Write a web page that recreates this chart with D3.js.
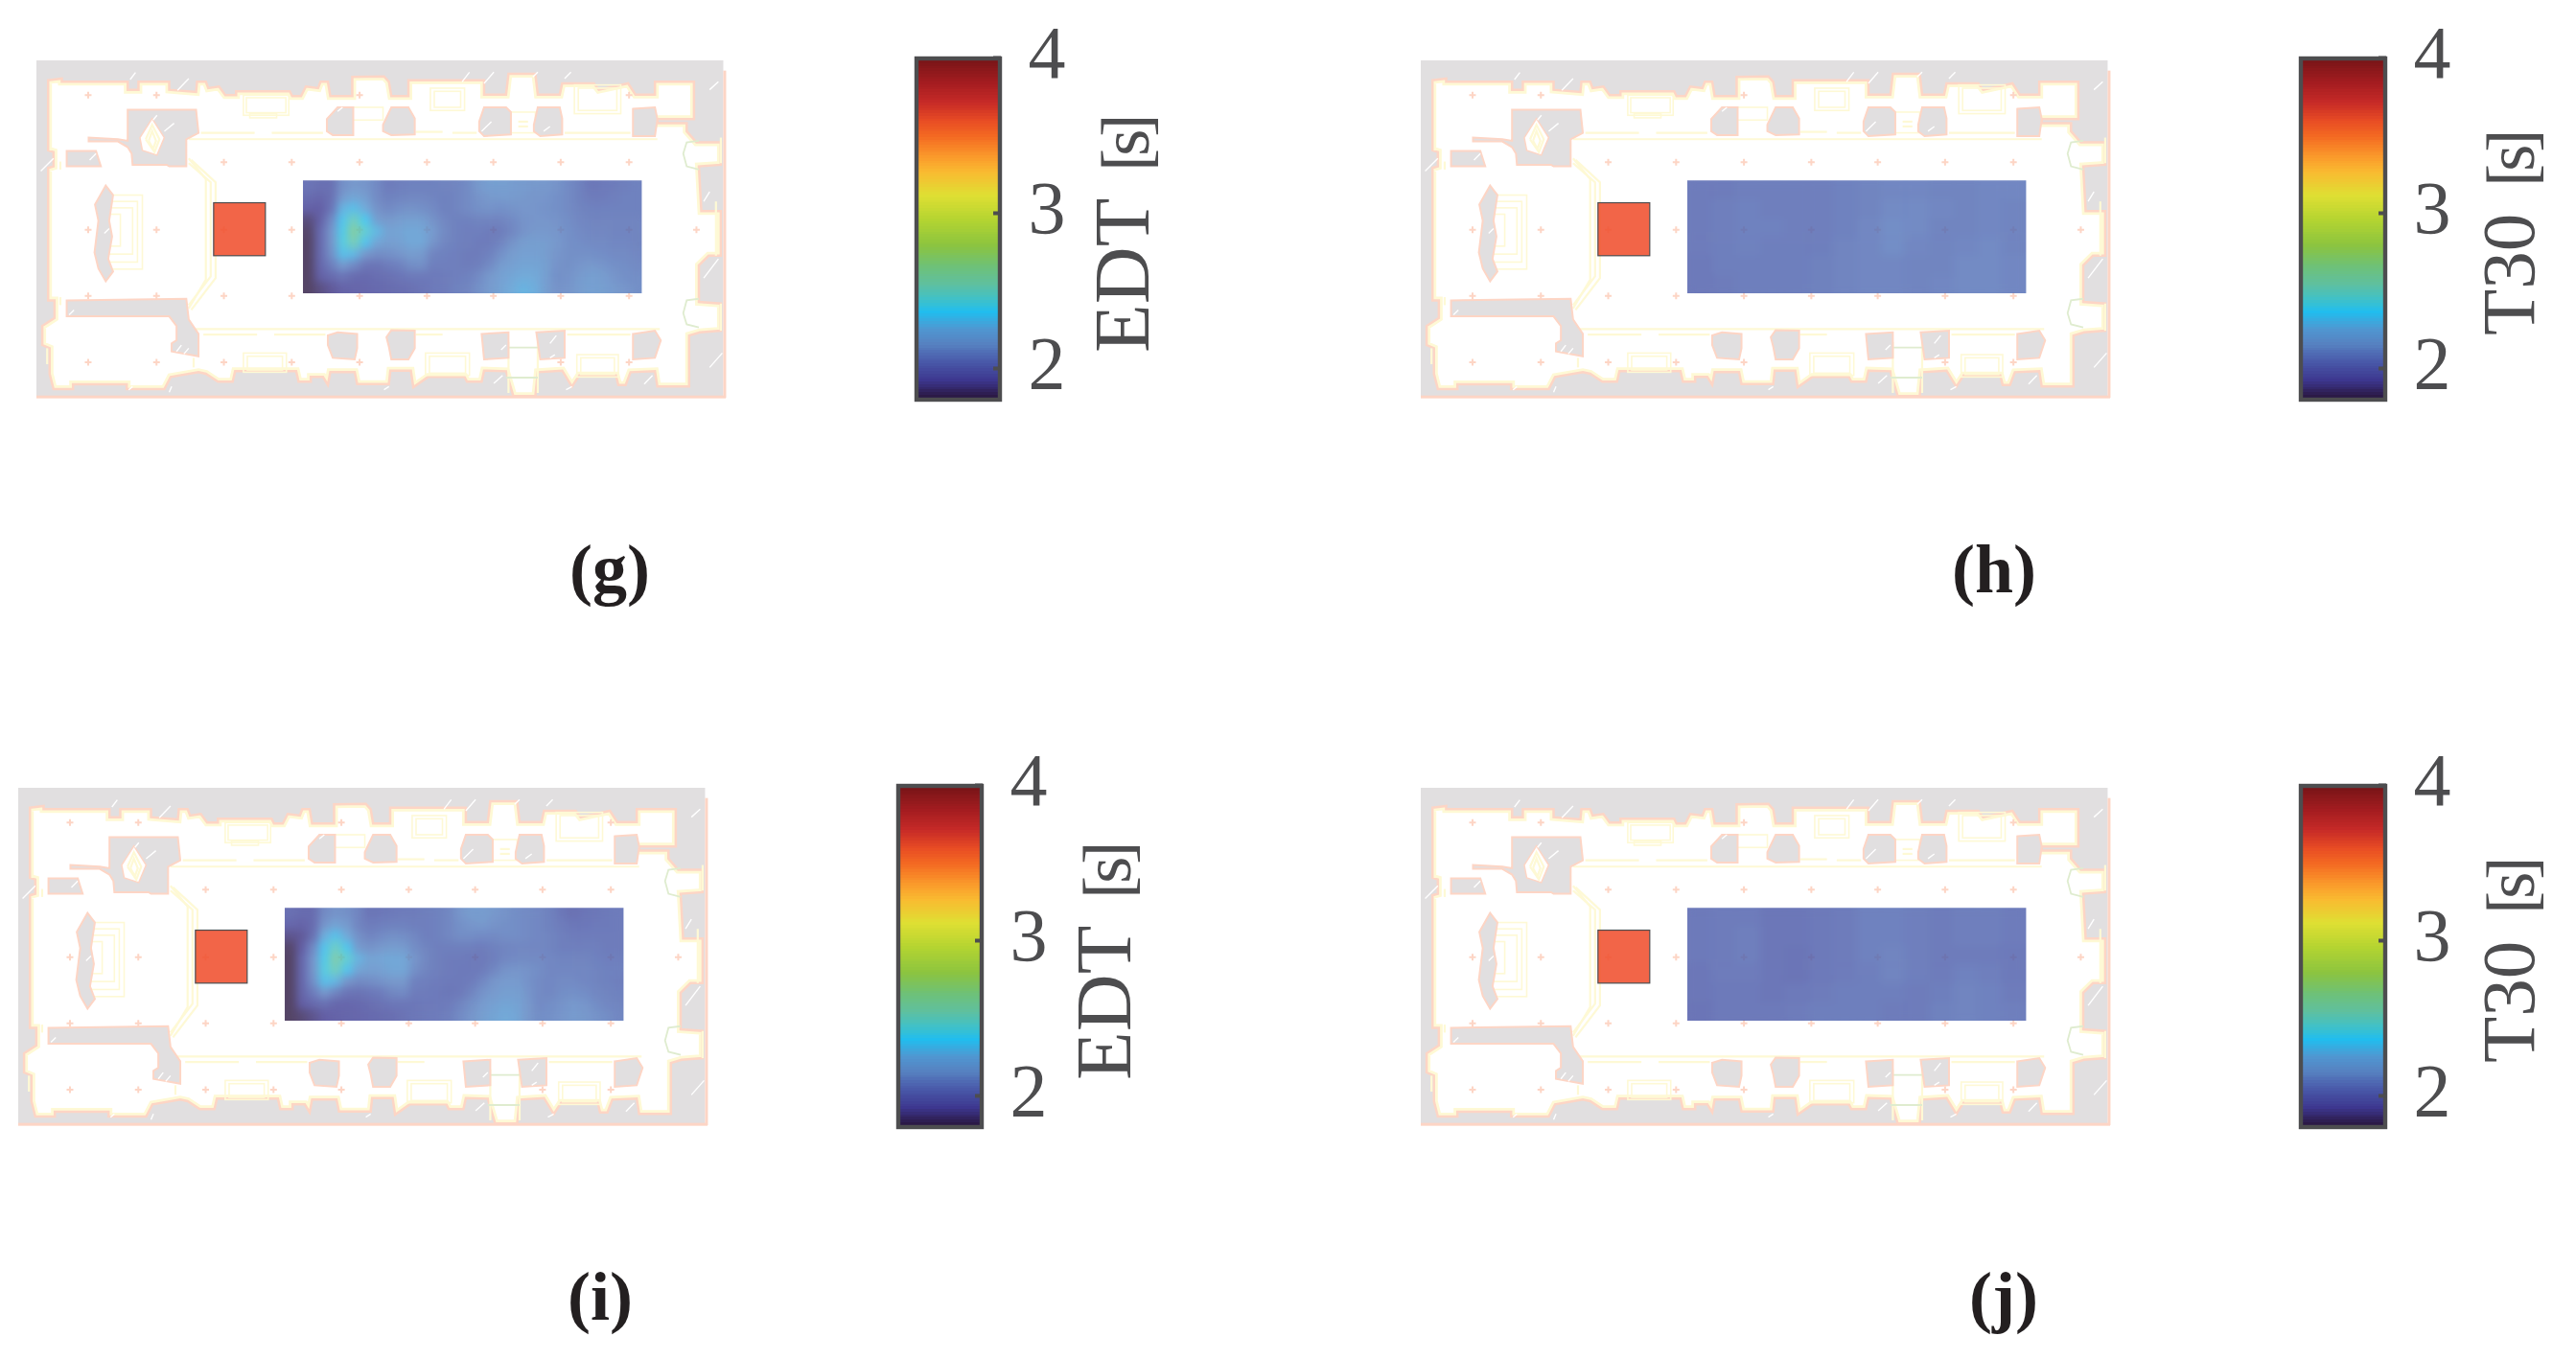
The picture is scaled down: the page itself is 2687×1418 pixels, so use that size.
<!DOCTYPE html>
<html>
<head>
<meta charset="utf-8">
<script src="https://cdn.jsdelivr.net/npm/d3@7"></script>
<style>
html,body{margin:0;padding:0;background:#fff}
svg{display:block}
text{font-family:"Liberation Serif",serif}
</style>
</head>
<body>
<svg id="chart" width="2687" height="1418"></svg>
<script>
// ---------- colour map ----------
const cmapValues = [1.81,1.92,2.05,2.15,2.25,2.36,2.44,2.54,2.66,2.79,2.95,3.11,3.26,3.36,3.49,3.59,3.71,3.84,3.98];
const cmapColors = ["#2a1640","#3d378f","#4a5cab","#5680c0","#5097d1","#21bdee","#3fc1c9","#5fc09f","#6fc175","#8cc43f","#b3d431","#dfdf33","#f9bb31","#fa9a2b","#f46a22","#e84c24","#c62a27","#a31c20","#7a1518"];
const colorbarTicks = [2,3,4];

// ---------- EDT / T30 maps (seconds), rows top to bottom ----------
const edtG = [
[2.02,2.00,2.00,2.12,2.15,2.14,2.10,2.05,2.06,2.07,2.07,2.07,2.08,2.08,2.10,2.15,2.18,2.18,2.17,2.16,2.15,2.15,2.13,2.10,2.07,2.03,2.04,2.05,2.06,2.07],
[1.98,1.96,2.00,2.16,2.22,2.18,2.10,2.07,2.08,2.09,2.09,2.08,2.07,2.08,2.10,2.13,2.15,2.16,2.16,2.15,2.14,2.14,2.12,2.10,2.07,2.05,2.05,2.06,2.07,2.07],
[1.93,1.92,2.02,2.28,2.32,2.25,2.13,2.10,2.12,2.13,2.12,2.10,2.07,2.08,2.10,2.12,2.13,2.12,2.13,2.14,2.14,2.13,2.12,2.10,2.08,2.07,2.07,2.07,2.07,2.07],
[1.85,1.93,2.10,2.34,2.50,2.36,2.18,2.15,2.17,2.19,2.18,2.13,2.09,2.07,2.07,2.08,2.08,2.08,2.10,2.13,2.14,2.14,2.13,2.11,2.09,2.08,2.08,2.08,2.08,2.08],
[1.82,1.97,2.14,2.38,2.60,2.44,2.30,2.20,2.21,2.23,2.22,2.16,2.10,2.07,2.06,2.06,2.05,2.05,2.09,2.13,2.15,2.15,2.14,2.12,2.10,2.09,2.09,2.08,2.08,2.08],
[1.80,1.97,2.14,2.40,2.52,2.34,2.22,2.18,2.19,2.23,2.23,2.14,2.09,2.07,2.06,2.05,2.05,2.08,2.13,2.17,2.18,2.17,2.15,2.12,2.11,2.10,2.10,2.09,2.09,2.08],
[1.80,1.97,2.12,2.32,2.30,2.15,2.11,2.12,2.14,2.17,2.16,2.08,2.07,2.06,2.05,2.05,2.07,2.12,2.17,2.19,2.19,2.17,2.14,2.12,2.12,2.12,2.11,2.10,2.10,2.09],
[1.80,1.96,2.06,2.16,2.10,2.03,2.02,2.05,2.07,2.11,2.12,2.06,2.06,2.06,2.05,2.06,2.10,2.16,2.19,2.21,2.21,2.18,2.13,2.12,2.14,2.15,2.14,2.12,2.11,2.10],
[1.80,1.93,1.98,2.02,1.98,1.97,1.99,2.00,2.02,2.04,2.04,2.04,2.05,2.06,2.07,2.10,2.15,2.19,2.22,2.25,2.24,2.18,2.12,2.13,2.16,2.18,2.17,2.14,2.12,2.11],
[1.80,1.86,1.90,1.94,1.95,1.96,1.97,1.98,1.99,2.00,2.02,2.04,2.05,2.07,2.08,2.12,2.16,2.20,2.25,2.28,2.26,2.18,2.13,2.14,2.17,2.19,2.18,2.16,2.14,2.12]
];
const edtI = [
[2.00,1.98,1.98,2.10,2.13,2.12,2.08,2.02,2.03,2.04,2.05,2.05,2.06,2.07,2.09,2.14,2.17,2.17,2.15,2.13,2.11,2.10,2.09,2.07,2.03,2.00,2.02,2.03,2.04,2.05],
[1.96,1.94,1.98,2.14,2.20,2.16,2.08,2.05,2.06,2.07,2.07,2.06,2.06,2.07,2.09,2.12,2.14,2.15,2.13,2.12,2.11,2.10,2.09,2.07,2.05,2.03,2.03,2.04,2.04,2.05],
[1.88,1.90,2.00,2.26,2.33,2.24,2.12,2.08,2.10,2.12,2.11,2.09,2.06,2.07,2.09,2.11,2.11,2.10,2.10,2.11,2.11,2.10,2.09,2.08,2.06,2.05,2.05,2.05,2.05,2.05],
[1.82,1.92,2.10,2.34,2.48,2.35,2.16,2.13,2.15,2.17,2.16,2.11,2.08,2.06,2.06,2.06,2.06,2.05,2.07,2.08,2.09,2.09,2.09,2.08,2.06,2.06,2.06,2.06,2.05,2.05],
[1.81,1.96,2.14,2.38,2.56,2.44,2.28,2.20,2.22,2.23,2.22,2.14,2.09,2.06,2.05,2.05,2.04,2.04,2.06,2.09,2.10,2.10,2.10,2.09,2.08,2.08,2.08,2.07,2.06,2.06],
[1.80,1.96,2.14,2.40,2.50,2.34,2.21,2.18,2.19,2.22,2.22,2.12,2.08,2.06,2.05,2.04,2.04,2.05,2.09,2.13,2.14,2.13,2.11,2.09,2.09,2.09,2.09,2.08,2.07,2.07],
[1.80,1.96,2.12,2.32,2.29,2.14,2.10,2.11,2.13,2.15,2.15,2.07,2.06,2.05,2.04,2.04,2.05,2.09,2.14,2.16,2.16,2.13,2.10,2.09,2.10,2.10,2.09,2.08,2.07,2.06],
[1.80,1.95,2.05,2.15,2.08,2.02,2.01,2.03,2.05,2.09,2.10,2.05,2.05,2.04,2.03,2.04,2.08,2.13,2.16,2.18,2.18,2.14,2.10,2.09,2.11,2.12,2.11,2.09,2.08,2.07],
[1.80,1.92,1.97,2.00,1.96,1.96,1.97,1.99,2.01,2.03,2.03,2.03,2.04,2.04,2.05,2.08,2.12,2.16,2.19,2.21,2.20,2.15,2.10,2.11,2.13,2.15,2.14,2.11,2.09,2.08],
[1.80,1.84,1.88,1.92,1.94,1.95,1.96,1.97,1.98,1.99,2.01,2.03,2.04,2.05,2.06,2.10,2.14,2.18,2.21,2.24,2.22,2.15,2.11,2.12,2.14,2.16,2.15,2.13,2.11,2.09]
];
const t30H = [
[2.05,2.05,2.06,2.06,2.06,2.06,2.07,2.08,2.09,2.09,2.08,2.08,2.09,2.09],
[2.05,2.06,2.07,2.06,2.06,2.06,2.07,2.08,2.10,2.10,2.09,2.08,2.09,2.08],
[2.05,2.06,2.07,2.07,2.06,2.06,2.07,2.09,2.11,2.10,2.08,2.08,2.09,2.08],
[2.05,2.06,2.07,2.06,2.06,2.06,2.08,2.09,2.11,2.09,2.08,2.09,2.10,2.08],
[2.04,2.06,2.06,2.06,2.06,2.07,2.08,2.09,2.09,2.08,2.08,2.10,2.10,2.09],
[2.04,2.05,2.06,2.06,2.06,2.07,2.08,2.09,2.09,2.08,2.09,2.10,2.10,2.09]
];
const t30J = [
[2.04,2.05,2.05,2.03,2.03,2.04,2.05,2.07,2.07,2.06,2.05,2.06,2.06,2.05],
[2.04,2.05,2.06,2.03,2.03,2.04,2.05,2.07,2.07,2.06,2.05,2.06,2.06,2.05],
[2.04,2.05,2.06,2.03,2.02,2.04,2.05,2.07,2.08,2.06,2.05,2.05,2.05,2.04],
[2.03,2.05,2.05,2.03,2.02,2.04,2.05,2.06,2.08,2.06,2.05,2.07,2.06,2.04],
[2.03,2.04,2.04,2.03,2.04,2.05,2.06,2.06,2.06,2.05,2.06,2.08,2.07,2.05],
[2.02,2.04,2.04,2.04,2.05,2.06,2.06,2.06,2.05,2.05,2.07,2.08,2.07,2.06]
];

// ---------- panel table ----------
const panelNames = ["(g)","(h)","(i)","(j)"];
const panelMetric = ["EDT","T30","EDT","T30"];
const panelUnit = " [s]";
const panelGrids = [edtG,t30H,edtI,t30J];
const panelDx = [0,1444,-19,1444];
const panelDy = [0,0,759,759];
const panelLabelX = [636,2080,626,2090];

// ---------- floor plan, in plan units ----------
const planDomainX = [73,1485], planDomainY = [98,1155];
const planRooms = [[97,160],[125,155],[125,165],[260,165],[260,190],[282,190],[282,165],[345,165],[345,190],[400,197],[402,165],[420,165],[425,185],[447,180],[460,207],[482,207],[482,195],[592,195],[597,210],[615,210],[625,180],[650,185],[655,165],[670,165],[675,210],[720,210],[720,150],[785,148],[795,165],[800,210],[835,210],[835,160],[990,160],[990,205],[1035,205],[1040,140],[1095,140],[1100,205],[1145,205],[1150,170],[1215,170],[1225,190],[1285,170],[1300,205],[1340,205],[1340,165],[1420,165],[1420,282],[1345,282],[1345,295],[1405,295],[1405,320],[1425,355],[1475,355],[1475,425],[1430,430],[1435,570],[1475,570],[1475,710],[1450,710],[1430,740],[1430,855],[1475,860],[1475,945],[1432,950],[1410,960],[1410,1120],[1345,1120],[1340,1072],[1290,1075],[1280,1115],[1265,1115],[1260,1085],[1185,1085],[1170,1120],[1150,1070],[1100,1075],[1095,1150],[1050,1150],[1035,1072],[990,1070],[985,1105],[955,1105],[950,1090],[875,1090],[845,1122],[840,1070],[798,1070],[795,1112],[730,1112],[725,1075],[675,1075],[670,1115],[660,1090],[635,1090],[635,1105],[610,1105],[605,1072],[480,1072],[475,1105],[445,1105],[420,1080],[405,1075],[348,1090],[335,1128],[258,1128],[258,1113],[148,1113],[148,1128],[108,1128],[100,1080],[100,1000],[85,990],[85,930],[110,905],[110,850],[97,850],[97,435],[108,430],[108,385],[97,380]];
const planPiers = [
[[668,282],[690,245],[722,245],[722,332],[680,332],[668,320]],
[[783,300],[800,245],[835,245],[848,280],[848,330],[800,332],[783,320]],
[[980,290],[990,245],[1035,245],[1045,260],[1045,330],[990,335],[980,320]],
[[1092,300],[1100,245],[1145,245],[1150,280],[1150,330],[1105,335],[1092,320]],
[[1295,250],[1340,245],[1345,282],[1340,335],[1295,335]],
[[670,960],[690,950],[730,955],[730,1000],[725,1035],[680,1030],[670,990]],
[[790,965],[800,943],[848,945],[848,1000],[835,1035],[800,1035],[795,995]],
[[985,955],[1040,950],[1040,1030],[990,1035]],
[[1097,950],[1155,945],[1155,1030],[1105,1035]],
[[1295,955],[1340,945],[1352,975],[1340,1030],[1295,1035]],
[[260,253],[400,253],[405,325],[380,345],[380,430],[345,430],[340,425],[270,425],[268,390],[260,370],[240,352],[180,352],[180,340],[240,345],[260,350]],
[[135,382],[195,382],[205,430],[135,430]],
[[215,490],[230,520],[222,600],[228,650],[220,720],[230,760],[215,790],[200,750],[192,700],[200,600],[193,550]],
[[135,850],[380,845],[385,910],[405,955],[405,1025],[350,1010],[350,985],[360,975],[360,930],[345,900],[135,900]]
];
const planVoids = [[[285,340],[310,280],[335,340],[320,395],[290,380]]];
const planCreamRects = [[497,207,590,270],[503,215,584,262],[510,265,565,278],[880,185,950,255],[888,195,942,245],[1175,175,1270,265],[1183,185,1262,255],[497,1015,585,1075],[505,1025,577,1068],[870,1015,960,1085],[878,1025,952,1078],[1180,1020,1265,1090],[1188,1030,1257,1082],[220,520,290,752],[220,540,280,730],[220,560,270,705],[220,580,245,680],[1040,260,1095,325],[720,245,783,285]];
const planCreamLines = [
[[410,325],[520,325]],[[555,325],[660,325]],[[850,322],[905,322]],[[925,325],[975,325]],[[1155,325],[1290,325]],
[[385,345],[1345,345]],[[390,940],[1350,940]],[[415,957],[525,957]],[[560,957],[665,957]],[[850,957],[905,957]],[[1160,957],[1290,957]],
[[385,405],[420,470],[420,785],[385,875]],[[385,420],[430,480],[430,775],[385,865]],[[390,410],[440,480],[440,780],[390,880]],
[[1465,540],[1465,710]],[[1475,340],[1475,420]],[[1475,860],[1475,945]],[[122,415],[122,440]],[[122,840],[122,865]],
[[1040,980],[1040,1140]],[[1100,980],[1100,1140]],[[1060,290],[1080,290]],[[1060,305],[1080,305]],[[95,1050],[95,1000]],[[395,1030],[395,1060]],
[[297,345],[310,300],[325,345],[315,385],[297,345]],[[303,350],[310,320],[318,350],[312,375],[303,350]]
];
const planGreenLines = [
[[1430,350],[1405,355],[1398,390],[1405,430],[1430,440]],
[[1430,845],[1405,850],[1398,890],[1405,925],[1430,935]],
[[1035,998],[1100,998]],[[1035,1092],[1100,1092]]
];
const planCrosses = [[179,207],[319,207],[735,207],[1287,207],[457,417],[596,417],[735,417],[873,417],[1009,417],[1147,417],[1287,417],[179,629],[319,629],[457,629],[596,629],[735,629],[873,629],[1009,629],[1147,629],[1287,629],[1425,629],[179,836],[319,836],[457,836],[596,836],[735,836],[873,836],[1009,836],[1147,836],[1287,836],[179,1044],[319,1044],[457,1044],[596,1044],[735,1044],[1147,1044],[1287,1044]];
const planSlashes = [[265,158,276,136],[362,192,385,155],[945,165,960,135],[990,170,1010,135],[1090,150,1100,135],[1155,155,1168,135],[1452,190,1470,165],[82,445,108,405],[182,410,195,390],[985,320,1005,290],[1112,320,1125,305],[312,285,320,270],[335,320,355,295],[690,258,700,245],[140,895,150,880],[360,1010,370,990],[375,1018,385,1000],[1125,985,1138,960],[1025,1005,1035,990],[1125,1030,1135,1020],[1452,1060,1478,1015],[1010,1110,1028,1085],[1318,1112,1335,1085],[345,1138,350,1120],[262,1130,270,1120],[785,1130,795,1120],[1158,1130,1170,1120],[1440,540,1452,510],[1440,780,1470,720],[212,640,222,625]];
const sourceRect = [436,544,542,710];
const heatRect = [619,474,1313,828];

// ---------- styles ----------
const ink = "#4d4d4f", wallGrey = "#e1dfe0", wallPink = "#fdd5c5", cream = "#fef9d5", pale = "#dfeccf", sourceFill = "#f0502f";
const svg = d3.select("#chart");
const defs = svg.append("defs");
const f = defs.append("filter").attr("id","smooth").attr("x","-10%").attr("y","-30%").attr("width","120%").attr("height","160%").attr("color-interpolation-filters","sRGB");
f.append("feGaussianBlur").attr("stdDeviation",4);
f.append("feComponentTransfer").append("feFuncA").attr("type","linear").attr("slope",60);

const color = d3.scaleLinear().domain(cmapValues).range(cmapColors).interpolate(d3.interpolateRgb).clamp(true);
const planX = d3.scaleLinear().domain(planDomainX).range([38,757]);
const planY = d3.scaleLinear().domain(planDomainY).range([63,415]);
const line = d3.line().x(d=>planX(d[0])).y(d=>planY(d[1]));
const poly = pts => line(pts)+"Z";
const barY = d3.scaleLinear().domain([2,4]).range([384,60]);
const barLevels = d3.range(128).map(i=>1.81+(3.98-1.81)*(i+0.5)/128);

defs.append("clipPath").attr("id","roomsClip").append("path").attr("d",poly(planRooms));

function drawPanel(k){
  const g = svg.append("g").attr("transform",`translate(${panelDx[k]},${panelDy[k]})`);
  const p = g.append("g");
  // walls
  p.append("rect").attr("x",planX(73)).attr("y",planY(98)).attr("width",planX(1480)-planX(73)).attr("height",planY(1155)-planY(98)).attr("fill",wallGrey);
  p.append("rect").attr("x",planX(73)).attr("y",planY(1148)).attr("width",planX(1485)-planX(73)).attr("height",3).attr("fill",wallPink);
  p.append("rect").attr("x",planX(1480)).attr("y",planY(130)).attr("width",3).attr("height",planY(1155)-planY(130)).attr("fill",wallPink);
  p.append("path").attr("d",poly(planRooms)).attr("fill","#fff");
  p.append("g").attr("clip-path","url(#roomsClip)").append("path").attr("d",poly(planRooms)).attr("fill","none").attr("stroke",cream).attr("stroke-width",8);
  p.append("path").attr("d",poly(planRooms)).attr("fill","none").attr("stroke",wallPink).attr("stroke-width",2.5);
  p.selectAll(".cr").data(planCreamRects).join("rect").attr("x",d=>planX(d[0])).attr("y",d=>planY(d[1])).attr("width",d=>planX(d[2])-planX(d[0])).attr("height",d=>planY(d[3])-planY(d[1])).attr("fill","none").attr("stroke",cream).attr("stroke-width",1.6);
  p.selectAll(".cl").data(planCreamLines).join("path").attr("d",line).attr("fill","none").attr("stroke",cream).attr("stroke-width",2.2);
  p.selectAll(".gl").data(planGreenLines).join("path").attr("d",line).attr("fill","none").attr("stroke",pale).attr("stroke-width",1.8);
  p.selectAll(".pi").data(planPiers).join("path").attr("d",poly).attr("fill",wallGrey).attr("stroke",wallPink).attr("stroke-width",2);
  p.selectAll(".vo").data(planVoids).join("path").attr("d",poly).attr("fill","#fff").attr("stroke",wallPink).attr("stroke-width",1.5);
  p.selectAll(".cl2").data(planCreamLines.slice(-2)).join("path").attr("d",line).attr("fill","none").attr("stroke",cream).attr("stroke-width",2.2);
  p.selectAll(".sl").data(planSlashes).join("line").attr("x1",d=>planX(d[0])).attr("y1",d=>planY(d[1])).attr("x2",d=>planX(d[2])).attr("y2",d=>planY(d[3])).attr("stroke","#fff").attr("stroke-width",1.4);
  p.selectAll(".xh").data(planCrosses).join("path").attr("d",d=>`M${planX(d[0])-3.5},${planY(d[1])}h7M${planX(d[0])},${planY(d[1])-3.5}v7`).attr("stroke",wallPink).attr("stroke-width",2).attr("fill","none");

  // heat map
  const grid = panelGrids[k];
  const hx = planX(heatRect[0]), hy = planY(heatRect[1]), hw = planX(heatRect[2])-hx, hh = planY(heatRect[3])-hy;
  const cid = "heatClip"+k;
  defs.append("clipPath").attr("id",cid).append("rect").attr("x",hx).attr("y",hy).attr("width",hw).attr("height",hh);
  const xb = d3.scaleBand().domain(d3.range(grid[0].length)).range([hx,hx+hw]);
  const yb = d3.scaleBand().domain(d3.range(grid.length)).range([hy,hy+hh]);
  const cells = grid.flatMap((r,j)=>r.map((v,i)=>({i,j,v})));
  const heat = g.append("g").attr("clip-path",`url(#${cid})`).attr("opacity",0.8).append("g").attr("filter","url(#smooth)");
  heat.selectAll("rect").data(cells).join("rect")
    .attr("x",d=>xb(d.i)).attr("y",d=>yb(d.j)).attr("width",xb.bandwidth()+0.5).attr("height",yb.bandwidth()+0.5)
    .attr("fill",d=>color(d.v));

  // source square
  g.append("rect").attr("x",planX(sourceRect[0])).attr("y",planY(sourceRect[1]))
    .attr("width",planX(sourceRect[2])-planX(sourceRect[0])).attr("height",planY(sourceRect[3])-planY(sourceRect[1]))
    .attr("fill",sourceFill).attr("fill-opacity",0.88).attr("stroke",ink).attr("stroke-width",1.2);

  // colour bar
  const right = k%2 ? 1046 : 1045;
  const barX0 = 954;
  const bar = g.append("g");
  bar.selectAll("rect").data(barLevels).join("rect")
    .attr("x",barX0+2).attr("width",right-barX0-4)
    .attr("y",d=>barY(d)-1.9).attr("height",3.2).attr("fill",d=>color(d)).attr("shape-rendering","crispEdges");
  bar.append("rect").attr("x",barX0+2).attr("y",61).attr("width",right-barX0-4).attr("height",356)
    .attr("fill","none").attr("stroke",ink).attr("stroke-width",4.4);
  const axis = d3.axisRight(barY).tickValues(colorbarTicks).tickFormat(d3.format("d")).tickSize(-8).tickPadding(0);
  const ag = g.append("g").attr("transform",`translate(${right-1},0)`).call(axis);
  ag.select(".domain").remove();
  ag.selectAll("line").attr("stroke",ink).attr("stroke-width",4);
  ag.selectAll("text").attr("x",48).attr("dy",0).attr("y",-6).attr("dominant-baseline","central")
    .attr("text-anchor","middle").attr("font-family","Liberation Serif").attr("font-size",78).attr("fill",ink);

  // metric label
  const isEdt = panelMetric[k]==="EDT";
  const lab = g.append("text").attr("transform",`translate(${right+153},${isEdt?368:350}) rotate(-90)`)
    .attr("fill",ink);
  lab.append("tspan").attr("font-size",isEdt?83:79).text(panelMetric[k]);
  lab.append("tspan").attr("font-size",72).attr("letter-spacing",-8).attr("dx",18).text(panelUnit);

  // panel caption
  svg.append("text").attr("x",panelLabelX[k]).attr("y",618+panelDy[k]).attr("text-anchor","middle")
    .attr("font-size",72).attr("font-weight","bold").attr("fill","#231f20").text(panelNames[k]);
}
panelNames.forEach((_,k)=>drawPanel(k));
</script>
</body>
</html>
